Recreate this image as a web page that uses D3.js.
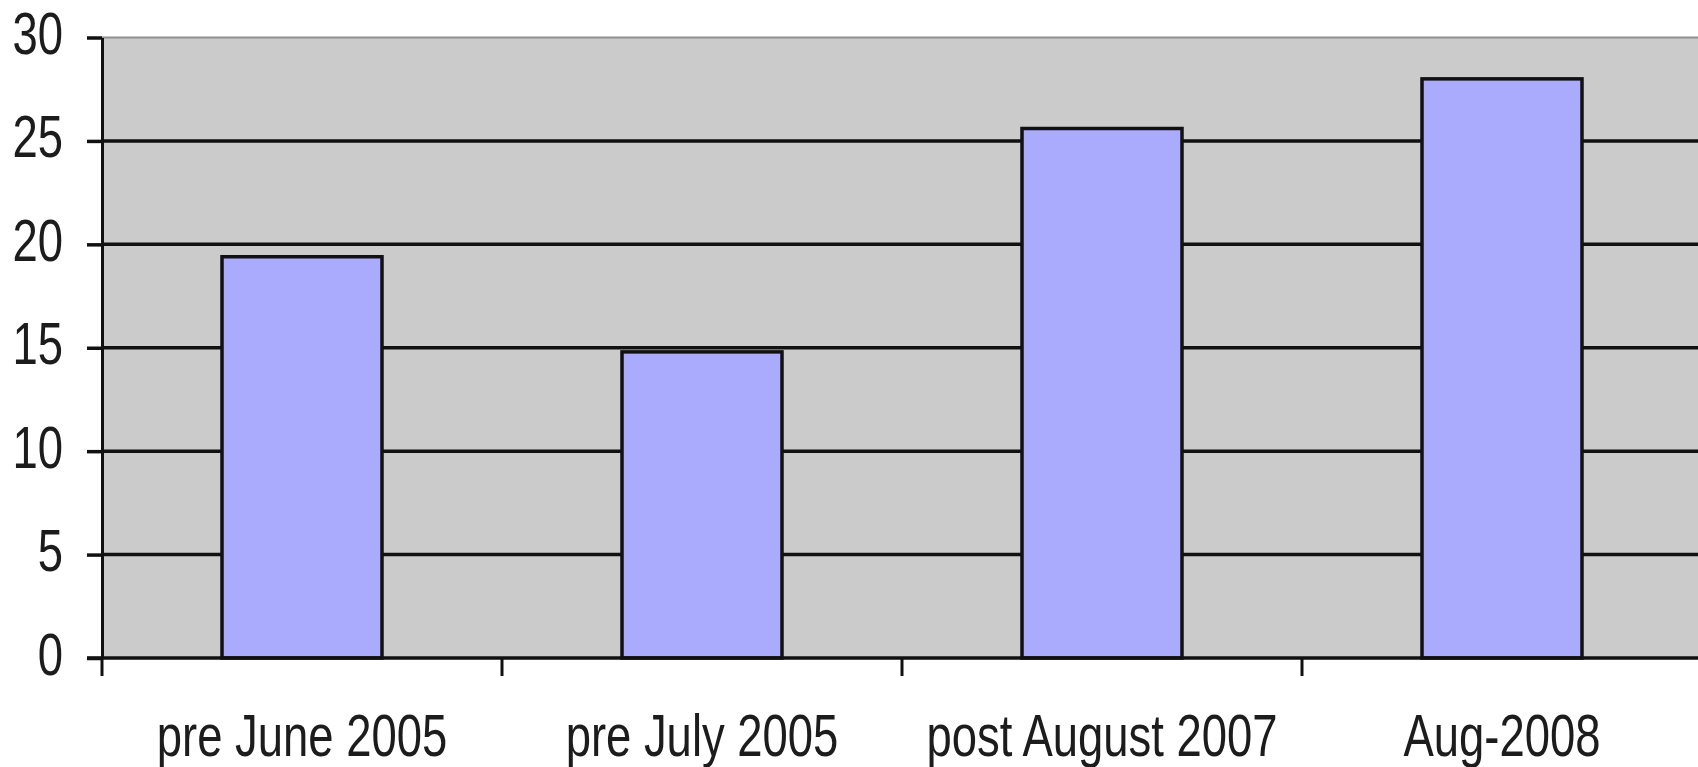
<!DOCTYPE html>
<html>
<head>
<meta charset="utf-8">
<script src="https://cdn.jsdelivr.net/npm/d3@7"></script>
<style>
  html, body { margin: 0; padding: 0; background: #ffffff; }
  svg { display: block; }
  text { font-family: "Liberation Sans", Arial, sans-serif; fill: #1c1c1c; }
</style>
</head>
<body>
<svg id="chart" width="1698" height="767"></svg>
<script>
// Category labels along the bottom axis
const categories = ["pre June 2005", "pre July 2005", "post August 2007", "Aug-2008"];
// One value per category
const values = [19.4, 14.8, 25.6, 28.0];
// Y axis tick values
const yTicks = [0, 5, 10, 15, 20, 25, 30];

const W = 1698, H = 767;
const plot = { left: 102, top: 37.5, right: 1702, bottom: 658 };
const fontSize = 59;
const narrow = 0.77; // horizontal squeeze for the condensed lettering

const svg = d3.select("#chart");

const x = d3.scaleBand()
  .domain(categories)
  .range([plot.left, plot.right])
  .paddingInner(0.6)
  .paddingOuter(0.3);

// Category slots without padding, used for the axis ticks between groups
const slot = d3.scaleBand()
  .domain(categories)
  .range([plot.left, plot.right])
  .padding(0);

const y = d3.scaleLinear()
  .domain([0, 30])
  .range([plot.bottom, plot.top]);

// Grey plotting area
svg.append("rect")
  .attr("x", plot.left)
  .attr("y", plot.top)
  .attr("width", plot.right - plot.left)
  .attr("height", plot.bottom - plot.top)
  .attr("fill", "#cbcbcb");

// Horizontal gridlines
svg.append("g")
  .selectAll("line")
  .data(yTicks.filter(d => d > 0))
  .join("line")
  .attr("x1", plot.left)
  .attr("x2", plot.right)
  .attr("y1", d => y(d))
  .attr("y2", d => y(d))
  .attr("stroke", d => d === 30 ? "#8f8f8f" : "#111")
  .attr("stroke-width", d => d === 30 ? 2 : 3.5);

// Bars
svg.append("g")
  .selectAll("rect")
  .data(values)
  .join("rect")
  .attr("x", (d, i) => x(categories[i]))
  .attr("y", d => y(d))
  .attr("width", x.bandwidth())
  .attr("height", d => y(0) - y(d))
  .attr("fill", "#aaabfd")
  .attr("stroke", "#111")
  .attr("stroke-width", 3.5);

// Left axis
const yAxis = svg.append("g")
  .attr("transform", `translate(${plot.left},0)`)
  .call(d3.axisLeft(y).tickValues(yTicks).tickSizeInner(15).tickSizeOuter(0).tickPadding(0));
yAxis.select(".domain").attr("stroke", "#111").attr("stroke-width", 3);
yAxis.selectAll(".tick line").attr("stroke", "#111").attr("stroke-width", 3.5);
yAxis.selectAll(".tick text")
  .attr("font-size", fontSize)
  .attr("font-family", "Liberation Sans, Arial, sans-serif")
  .attr("fill", "#1c1c1c")
  .attr("text-anchor", "end")
  .attr("dy", null)
  .attr("y", 16)
  .attr("x", -39 / narrow)
  .attr("transform", `scale(${narrow},1)`);

// Bottom axis with ticks at the slot boundaries
const xAxis = svg.append("g")
  .attr("transform", `translate(0,${plot.bottom})`);
xAxis.append("line")
  .attr("x1", plot.left - 15)
  .attr("x2", plot.right)
  .attr("y1", 0)
  .attr("y2", 0)
  .attr("stroke", "#111")
  .attr("stroke-width", 3.5);
const bounds = categories.map(c => slot(c)).concat([plot.right]);
xAxis.selectAll("line.tick")
  .data(bounds)
  .join("line")
  .attr("class", "tick")
  .attr("x1", d => d)
  .attr("x2", d => d)
  .attr("y1", 0)
  .attr("y2", 18)
  .attr("stroke", "#111")
  .attr("stroke-width", 3);

const labelAxis = svg.append("g")
  .attr("transform", `translate(0,${plot.bottom})`)
  .call(d3.axisBottom(slot).tickSize(0).tickPadding(0));
labelAxis.select(".domain").remove();
labelAxis.selectAll(".tick text")
  .attr("font-size", fontSize)
  .attr("font-family", "Liberation Sans, Arial, sans-serif")
  .attr("fill", "#1c1c1c")
  .attr("dy", null)
  .attr("y", 98)
  .attr("transform", `scale(${narrow},1)`);
</script>
</body>
</html>
